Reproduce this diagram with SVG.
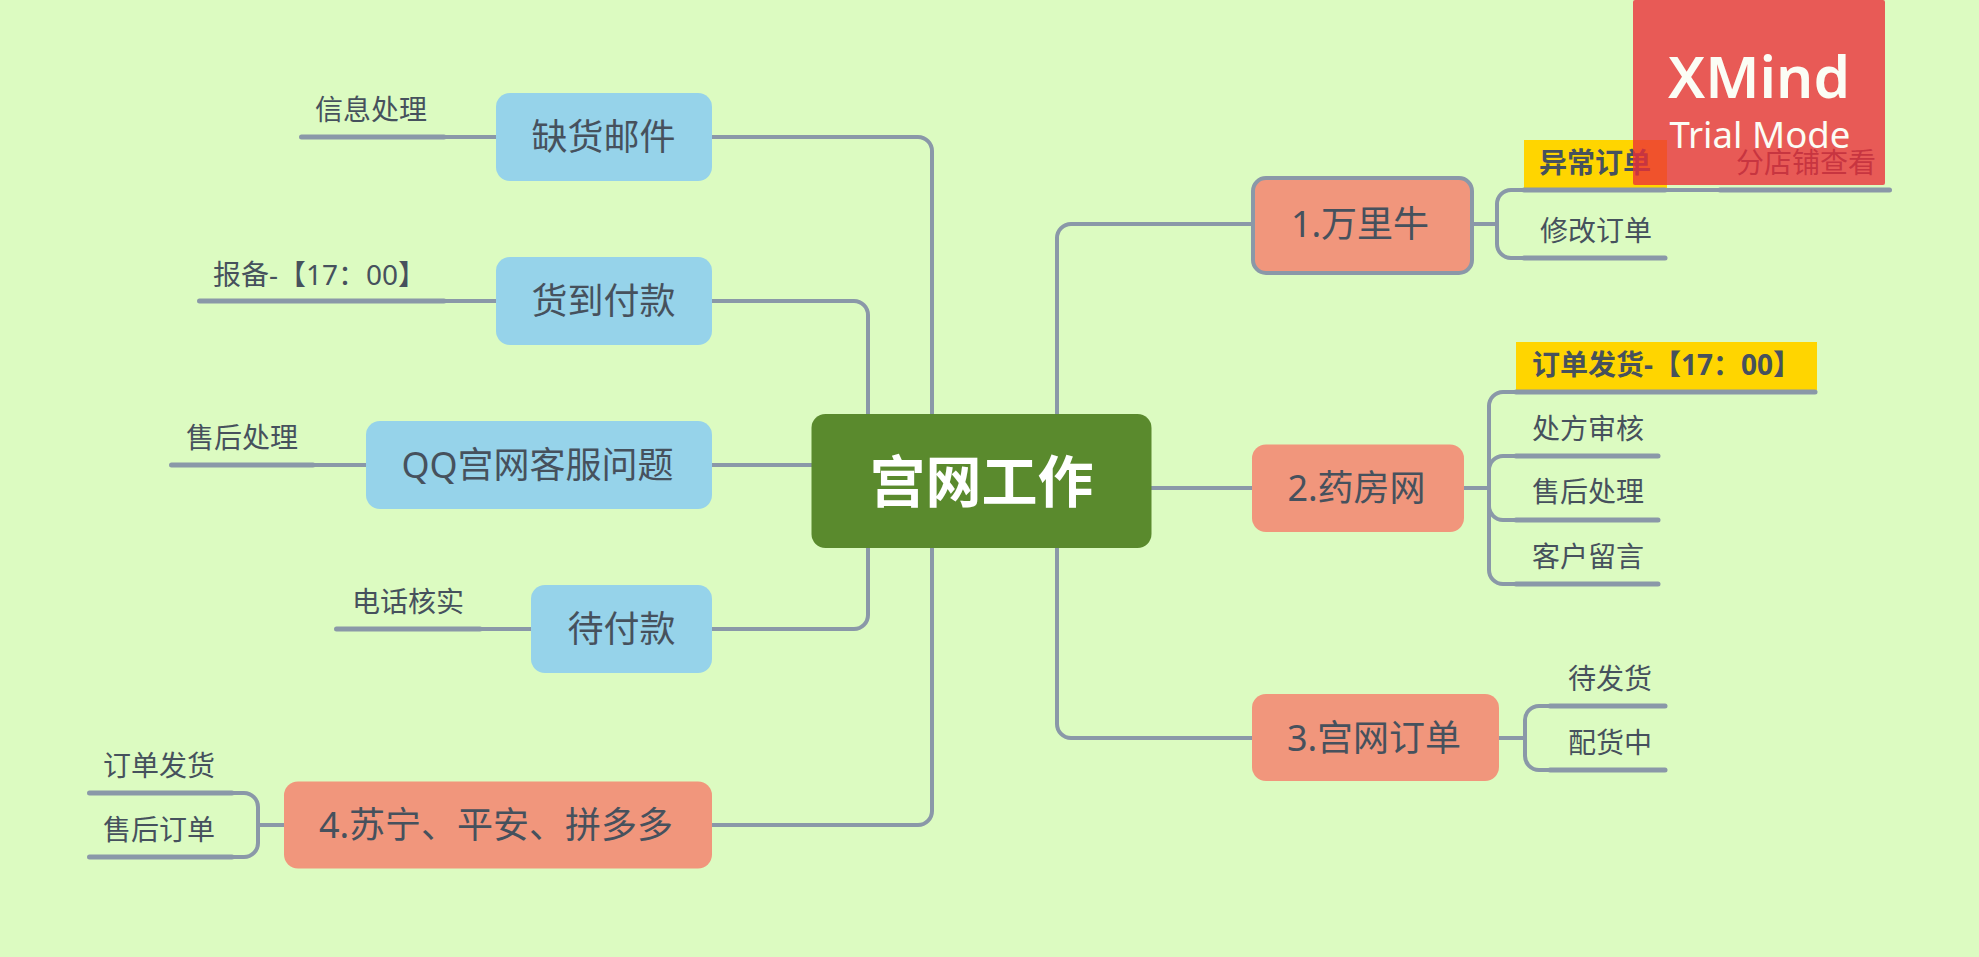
<svg xmlns="http://www.w3.org/2000/svg" width="1979" height="957" viewBox="0 0 1979 957">
<style>
text{font-family:"Noto Sans","Noto Sans CJK SC",sans-serif;fill:#46515d}
.m{font-size:36px;text-anchor:middle}
.s{font-size:28px}
.b{font-weight:700}
.box{fill:#96d3ea}
.org{fill:#f1967c}
.c{fill:none;stroke:#8a98a8;stroke-width:4;stroke-linecap:round;stroke-linejoin:round}
.u{fill:none;stroke:#8a98a8;stroke-width:5;stroke-linecap:round}
.y{fill:#ffd500}
</style>
<rect width="1979" height="957" fill="#dcfbc1"/>
<g id="connectors">
<path class="c" d="M712 137H918a14 14 0 0 1 14 14V414"/>
<path class="c" d="M712 301H854a14 14 0 0 1 14 14V414"/>
<path class="c" d="M712 465H812"/>
<path class="c" d="M712 629H854a14 14 0 0 0 14 -14V548"/>
<path class="c" d="M712 825H918a14 14 0 0 0 14 -14V548"/>
<path class="c" d="M1253 224H1071a14 14 0 0 0 -14 14V414"/>
<path class="c" d="M1151 488H1252"/>
<path class="c" d="M1252 738H1071a14 14 0 0 1 -14 -14V548"/>
<path class="c" d="M444 137H496M444 301H496M313 465H366M480 629H531"/>
<path class="c" d="M1472 224H1497M1524 190H1511a14 14 0 0 0 -14 14V244a14 14 0 0 0 14 14H1524M1667 190H1720"/>
<path class="c" d="M1464 488H1489M1516 392H1503a14 14 0 0 0 -14 14V570a14 14 0 0 0 14 14H1516M1516 456H1503a14 14 0 0 0 -14 14V506a14 14 0 0 0 14 14H1516"/>
<path class="c" d="M1499 738H1525M1550 706H1539a14 14 0 0 0 -14 14V756a14 14 0 0 0 14 14H1550"/>
<path class="c" d="M284 825H258M232 793H244a14 14 0 0 1 14 14V843a14 14 0 0 1 -14 14H232"/>
</g>
<g id="center"><rect x="811.5" y="414" width="340" height="134" rx="14" fill="#5a8a2d"/><text x="981.5" y="502" font-size="56" text-anchor="middle" font-weight="700" style="fill:#fff">宫网工作</text></g>
<g id="n-quehuo"><rect class="box" x="496" y="93" width="216" height="88" rx="14"/><text class="m" x="603.500" y="150">缺货邮件</text></g>
<g id="n-huodao"><rect class="box" x="496" y="257" width="216" height="88" rx="14"/><text class="m" x="603.500" y="314">货到付款</text></g>
<g id="n-qq"><rect class="box" x="366" y="421" width="346" height="88" rx="14"/><text class="m" x="537.500" y="478">QQ宫网客服问题</text></g>
<g id="n-daifu"><rect class="box" x="531" y="585" width="181" height="88" rx="14"/><text class="m" x="621.500" y="642">待付款</text></g>
<g id="n-suning"><rect class="org" x="284" y="781.5" width="428" height="87" rx="14"/><text class="m" x="496" y="838">4.苏宁、平安、拼多多</text></g>
<g id="n-wanli"><rect class="org" x="1253" y="178" width="219" height="95" rx="13" stroke="#8a98a8" stroke-width="4"/><text class="m" x="1360" y="237">1.万里牛</text></g>
<g id="n-yaofang"><rect class="org" x="1252" y="444.5" width="212" height="87.5" rx="14"/><text class="m" x="1356.5" y="501">2.药房网</text></g>
<g id="n-guanwang"><rect class="org" x="1252" y="694" width="247" height="87" rx="14"/><text class="m" x="1374" y="751">3.宫网订单</text></g>
<g id="l-xinxi"><path class="u" d="M301.500 137H444"/><text class="s" x="315" y="120">信息处理</text></g>
<g id="l-baobei"><path class="u" d="M199.500 301H444"/><text class="s" x="213" y="285">报备-【17：00】</text></g>
<g id="l-shouhou"><path class="u" d="M171.500 465H313"/><text class="s" x="186" y="448">售后处理</text></g>
<g id="l-dianhua"><path class="u" d="M336.500 629H480"/><text class="s" x="352" y="612">电话核实</text></g>
<g id="l-dingdan"><path class="u" d="M89.500 793H232"/><text class="s" x="103" y="776">订单发货</text></g>
<g id="l-shouhou2"><path class="u" d="M89.500 857H232"/><text class="s" x="103" y="840">售后订单</text></g>
<g id="l-yichang"><rect class="y" x="1524" y="140" width="143" height="48"/><path class="u" d="M1524 190H1665"/><text class="s b" x="1539" y="173">异常订单</text></g>
<g id="l-fendian"><path class="u" d="M1720 190H1889.500"/><text class="s" x="1736" y="173">分店铺查看</text></g>
<g id="l-xiugai"><path class="u" d="M1524 258H1665"/><text class="s" x="1540" y="241">修改订单</text></g>
<g id="l-fahuo"><rect class="y" x="1516" y="342" width="301" height="48"/><path class="u" d="M1516 392H1815"/><text class="s b" x="1532" y="375">订单发货-【17：00】</text></g>
<g id="l-chufang"><path class="u" d="M1516 456H1658"/><text class="s" x="1532" y="439">处方审核</text></g>
<g id="l-shouhou3"><path class="u" d="M1516 520H1658"/><text class="s" x="1532" y="502">售后处理</text></g>
<g id="l-kehu"><path class="u" d="M1516 584H1658"/><text class="s" x="1532" y="567">客户留言</text></g>
<g id="l-daifa"><path class="u" d="M1550 706H1665"/><text class="s" x="1568" y="689">待发货</text></g>
<g id="l-peihuo"><path class="u" d="M1550 770H1665"/><text class="s" x="1568" y="753">配货中</text></g>
<g id="watermark"><rect x="1633" y="0" width="252" height="185" rx="2" fill="#ec2d39" opacity=".78"/>
<text x="1759" y="98" font-size="57" font-weight="600" text-anchor="middle" textLength="182" lengthAdjust="spacingAndGlyphs" style="fill:#fbfdf5">XMind</text>
<text x="1760" y="148" font-size="36.500" text-anchor="middle" textLength="181" lengthAdjust="spacingAndGlyphs" style="fill:#fbfdf5">Trial Mode</text></g>
</svg>
